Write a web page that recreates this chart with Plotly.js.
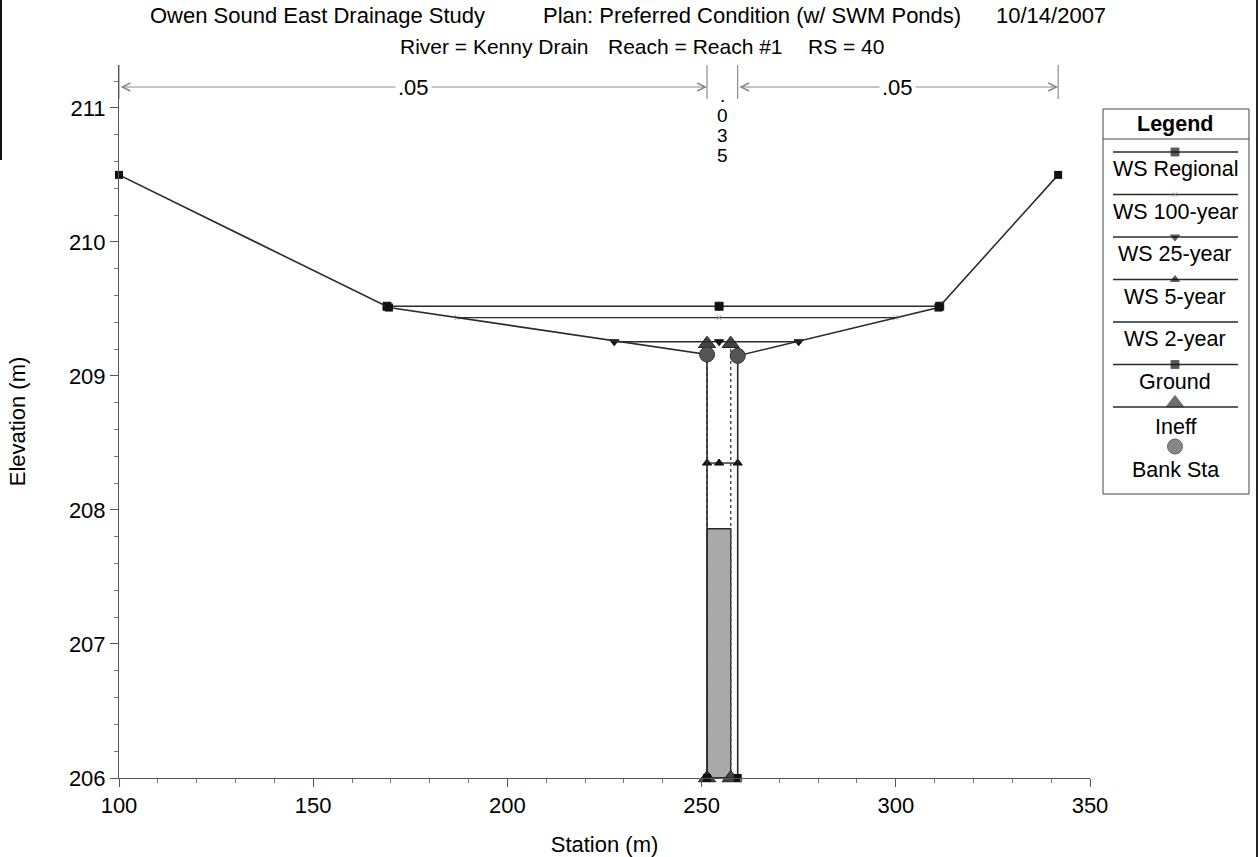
<!DOCTYPE html>
<html>
<head>
<meta charset="utf-8">
<script src="https://cdn.plot.ly/plotly-3.0.1.min.js"></script>
<style>html,body{margin:0;padding:0;background:#fff;}#chart{width:1259px;height:857px;}</style>
</head>
<body>
<div id="chart"></div>
<script>
// ---------------- data ----------------
const groundX = [100, 169.5, 251.4, 251.4, 259.3, 259.3, 311.0, 341.8];
const groundY = [210.50, 209.51, 209.16, 206.00, 206.00, 209.15, 209.51, 210.50];

const profileNames = ['WS Regional', 'WS 100-year', 'WS 25-year', 'WS 5-year', 'WS 2-year'];
const profileElev  = [209.52, 209.435, 209.255, 208.35, 207.86];
const profileLeft  = [169.0, 187.0, 227.5, 251.4, 251.4];
const profileRight = [311.3, 300.0, 275.0, 259.3, 257.5];
const channelMid = 254.5;

const bankX = [251.4, 259.3];
const bankY = [209.16, 209.15];

const ineffX = [251.4, 257.5];
const ineffTop = 209.24;
const ineffBottom = 206.0;

const nStations = [100, 251.4, 259.3, 341.8];
const nValues = ['.05', '.035', '.05'];

const legendLabels = ['WS Regional', 'WS 100-year', 'WS 25-year', 'WS 5-year', 'WS 2-year', 'Ground', 'Ineff', 'Bank Sta'];

const titleLine1 = ['Owen Sound East Drainage Study', 'Plan: Preferred Condition (w/ SWM Ponds)', '10/14/2007'];
const titleLine2 = ['River = Kenny Drain', 'Reach = Reach #1', 'RS = 40'];

// ---------------- layout geometry ----------------
const FONT = 'Arial, "Liberation Sans", sans-serif';
const FS = 22;
const W = 1259, H = 857;
const mL = 119, mR = 7, mT = 65, mB = 79;
const plotW = W - mL - mR, plotH = H - mT - mB;
const yRange = [206, 211.32];
const pxX = px => (px - mL) / plotW;           // page px -> paper x
const pxY = py => (H - mB - py) / plotH;       // page px -> paper y
const yUnitPx = plotH / (yRange[1] - yRange[0]);
const dataY = py => yRange[1] - (py - mT) / yUnitPx;

const dark = '#2b2b2b';
const profileSymbols = ['square', 'x-thin', 'triangle-down', 'triangle-up', null];
const profileSizes = [8, 5, 8, 8, 0];

const traces = [];

// WS 2-year filled water area
{
  const i = 4;
  traces.push({
    x: [profileLeft[i], profileRight[i], profileRight[i], profileLeft[i], profileLeft[i]],
    y: [profileElev[i], profileElev[i], ineffBottom, ineffBottom, profileElev[i]],
    mode: 'lines', fill: 'toself', fillcolor: '#a9a9a9',
    line: {color: dark, width: 1.4}, name: profileNames[i], hoverinfo: 'skip'
  });
}

// Ineffective flow limits
traces.push({
  x: [ineffX[0], ineffX[0], null, ineffX[1], ineffX[1]],
  y: [ineffBottom, ineffTop, null, ineffBottom, ineffTop],
  mode: 'lines+markers', name: 'Ineff', cliponaxis: false,
  line: {color: '#444', width: 1.4, dash: 'dot'},
  marker: {symbol: 'triangle-up', size: 15, color: '#444', line: {color: '#222', width: 1}}
});

// WS profiles (regional .. 5-year)
for (let i = 0; i < 4; i++) {
  traces.push({
    x: [profileLeft[i], channelMid, profileRight[i]],
    y: [profileElev[i], profileElev[i], profileElev[i]],
    mode: 'lines+markers', name: profileNames[i],
    line: {color: dark, width: 1.4},
    marker: {symbol: profileSymbols[i], size: profileSizes[i],
             color: i === 1 ? '#999' : '#111', line: {color: i === 1 ? '#999' : '#111', width: 1}}
  });
}

// Ground
traces.push({
  x: groundX, y: groundY, mode: 'lines+markers', name: 'Ground', cliponaxis: false,
  line: {color: dark, width: 1.6},
  marker: {symbol: 'square', size: 8, color: '#111'}
});

// Bank stations
traces.push({
  x: bankX, y: bankY, mode: 'markers', name: 'Bank Sta',
  marker: {symbol: 'circle', size: 15, color: '#555', line: {color: '#333', width: 1}}
});

// ---------------- custom legend (pixel overlay axes) ----------------
const lgL = 1103, lgR = 1249, lgT = 109, lgB = 494;
const sampleL = 1113, sampleR = 1238, sampleMid = 1175;
const rowY = i => 152 + i * 42.5;
const legendLineX = [], legendLineY = [];
for (let i = 0; i < 7; i++) {
  legendLineX.push(sampleL, sampleR, null);
  legendLineY.push(rowY(i), rowY(i), null);
}
traces.push({x: legendLineX, y: legendLineY, xaxis: 'x2', yaxis: 'y2', mode: 'lines',
  line: {color: dark, width: 1.3}, hoverinfo: 'skip', showlegend: false});
const legSym = ['square', 'x-thin', 'triangle-down', 'triangle-up', 'square', 'triangle-up', 'circle'];
const legSize = [8, 5, 8, 8, 8, 15, 15];
const legColor = ['#111', '#999', '#111', '#111', '#111', '#333', '#555'];
const legIdx = [0, 1, 2, 3, 5, 6, 7];
traces.push({
  x: legIdx.map(() => sampleMid),
  y: legIdx.map(i => i === 6 ? rowY(i) - 4 : (i === 7 ? rowY(7) - 3 : rowY(i))),
  xaxis: 'x2', yaxis: 'y2', mode: 'markers', hoverinfo: 'skip', showlegend: false,
  marker: {symbol: legSym, size: legSize, color: legColor, line: {color: legColor.map(c => c === '#999' ? '#999' : '#222'), width: 1}}
});

const annotations = [];
legendLabels.forEach((t, i) => {
  annotations.push({xref: 'x2', yref: 'y2', x: sampleMid, y: rowY(i) + (i >= 6 ? 20 : 17), text: t,
    showarrow: false, font: {family: FONT, size: 21.5, color: '#000'}, xanchor: 'center', yanchor: 'middle'});
});
annotations.push({xref: 'x2', yref: 'y2', x: sampleMid, y: 124, text: '<b>Legend</b>', showarrow: false,
  font: {family: FONT, size: 21.5, color: '#000'}});

// ---------------- titles ----------------
const t1x = [148, 541, 994];
titleLine1.forEach((t, i) => annotations.push({xref: 'paper', yref: 'paper', x: pxX(t1x[i]), y: pxY(16),
  xanchor: 'left', yanchor: 'middle', text: t, showarrow: false, font: {family: FONT, size: FS, color: '#000'}}));
const t2x = [398, 606, 806];
titleLine2.forEach((t, i) => annotations.push({xref: 'paper', yref: 'paper', x: pxX(t2x[i]), y: pxY(47),
  xanchor: 'left', yanchor: 'middle', text: t, showarrow: false, font: {family: FONT, size: 21, color: '#000'}}));

// ---------------- Manning's n brackets ----------------
const shapes = [];
const nArrowY = dataY(87);
nStations.forEach(s => shapes.push({type: 'line', xref: 'x', yref: 'y', x0: s, x1: s,
  y0: dataY(99), y1: dataY(65), line: {color: '#777', width: 1}}));
for (let i = 0; i < nValues.length; i++) {
  const a = nStations[i], b = nStations[i + 1], mid = (a + b) / 2;
  if (b - a > 20) {
    annotations.push({xref: 'x', yref: 'y', axref: 'x', ayref: 'y', x: b, y: nArrowY, ax: a, ay: nArrowY,
      text: '', showarrow: true, arrowside: 'end+start', arrowhead: 5, startarrowhead: 5,
      arrowsize: 1.6, startarrowsize: 1.6, arrowwidth: 1, arrowcolor: '#8a8a8a', standoff: 0, startstandoff: 0});
    annotations.push({xref: 'x', yref: 'y', x: mid, y: nArrowY, text: nValues[i], showarrow: false,
      bgcolor: '#fff', borderpad: 2, font: {family: FONT, size: FS, color: '#000'}});
  } else {
    nValues[i].split('').forEach((ch, k) => annotations.push({xref: 'x', yref: 'y', x: mid,
      y: dataY(95 + k * 20), text: ch, showarrow: false, font: {family: FONT, size: 19, color: '#000'}}));
  }
}

// scan border artifacts
shapes.push({type: 'line', xref: 'paper', yref: 'paper', x0: pxX(1), x1: pxX(1), y0: pxY(0), y1: pxY(160), line: {color: '#111', width: 2}});
shapes.push({type: 'line', xref: 'paper', yref: 'paper', x0: pxX(1257), x1: pxX(1257), y0: pxY(0), y1: pxY(857), line: {color: '#222', width: 2}});

// legend box
shapes.push({type: 'rect', xref: 'x2', yref: 'y2', x0: lgL, x1: lgR, y0: lgT, y1: lgB, line: {color: '#444', width: 1}, fillcolor: 'rgba(0,0,0,0)', layer: 'below'});
shapes.push({type: 'line', xref: 'x2', yref: 'y2', x0: lgL, x1: lgR, y0: 139, y1: 139, line: {color: '#444', width: 1}});

const layout = {
  width: W, height: H,
  margin: {l: mL, r: mR, t: mT, b: mB, pad: 0},
  paper_bgcolor: '#fff', plot_bgcolor: '#fff',
  showlegend: false,
  font: {family: FONT, size: FS, color: '#000'},
  xaxis: {
    domain: [0, 971 / plotW], range: [100, 350], tick0: 100, dtick: 50,
    showgrid: false, zeroline: false, showline: true, linecolor: '#555', linewidth: 1,
    ticks: 'outside', ticklen: 8, tickcolor: '#555',
    minor: {dtick: 10, ticks: 'outside', ticklen: 4, tickcolor: '#777', showgrid: false},
    tickfont: {family: FONT, size: FS, color: '#000'},
    title: {text: 'Station (m)', font: {family: FONT, size: FS, color: '#000'}, standoff: 20}
  },
  yaxis: {
    range: yRange, tick0: 206, dtick: 1,
    showgrid: false, zeroline: false, showline: true, linecolor: '#555', linewidth: 1,
    ticks: 'outside', ticklen: 8, tickcolor: '#555',
    minor: {dtick: 0.2, ticks: 'outside', ticklen: 4, tickcolor: '#777', showgrid: false},
    tickfont: {family: FONT, size: FS, color: '#000'},
    title: {text: 'Elevation (m)', font: {family: FONT, size: FS, color: '#000'}, standoff: 37}
  },
  xaxis2: {domain: [(lgL - 1 - mL) / plotW, 1], range: [lgL - 1, W - mR], anchor: 'y2', visible: false, fixedrange: true},
  yaxis2: {domain: [pxY(lgB + 6), pxY(lgT - 6)], range: [lgB + 6, lgT - 6], anchor: 'x2', visible: false, fixedrange: true},
  shapes: shapes,
  annotations: annotations
};

Plotly.newPlot('chart', traces, layout, {displayModeBar: false, staticPlot: true});
</script>
</body>
</html>
